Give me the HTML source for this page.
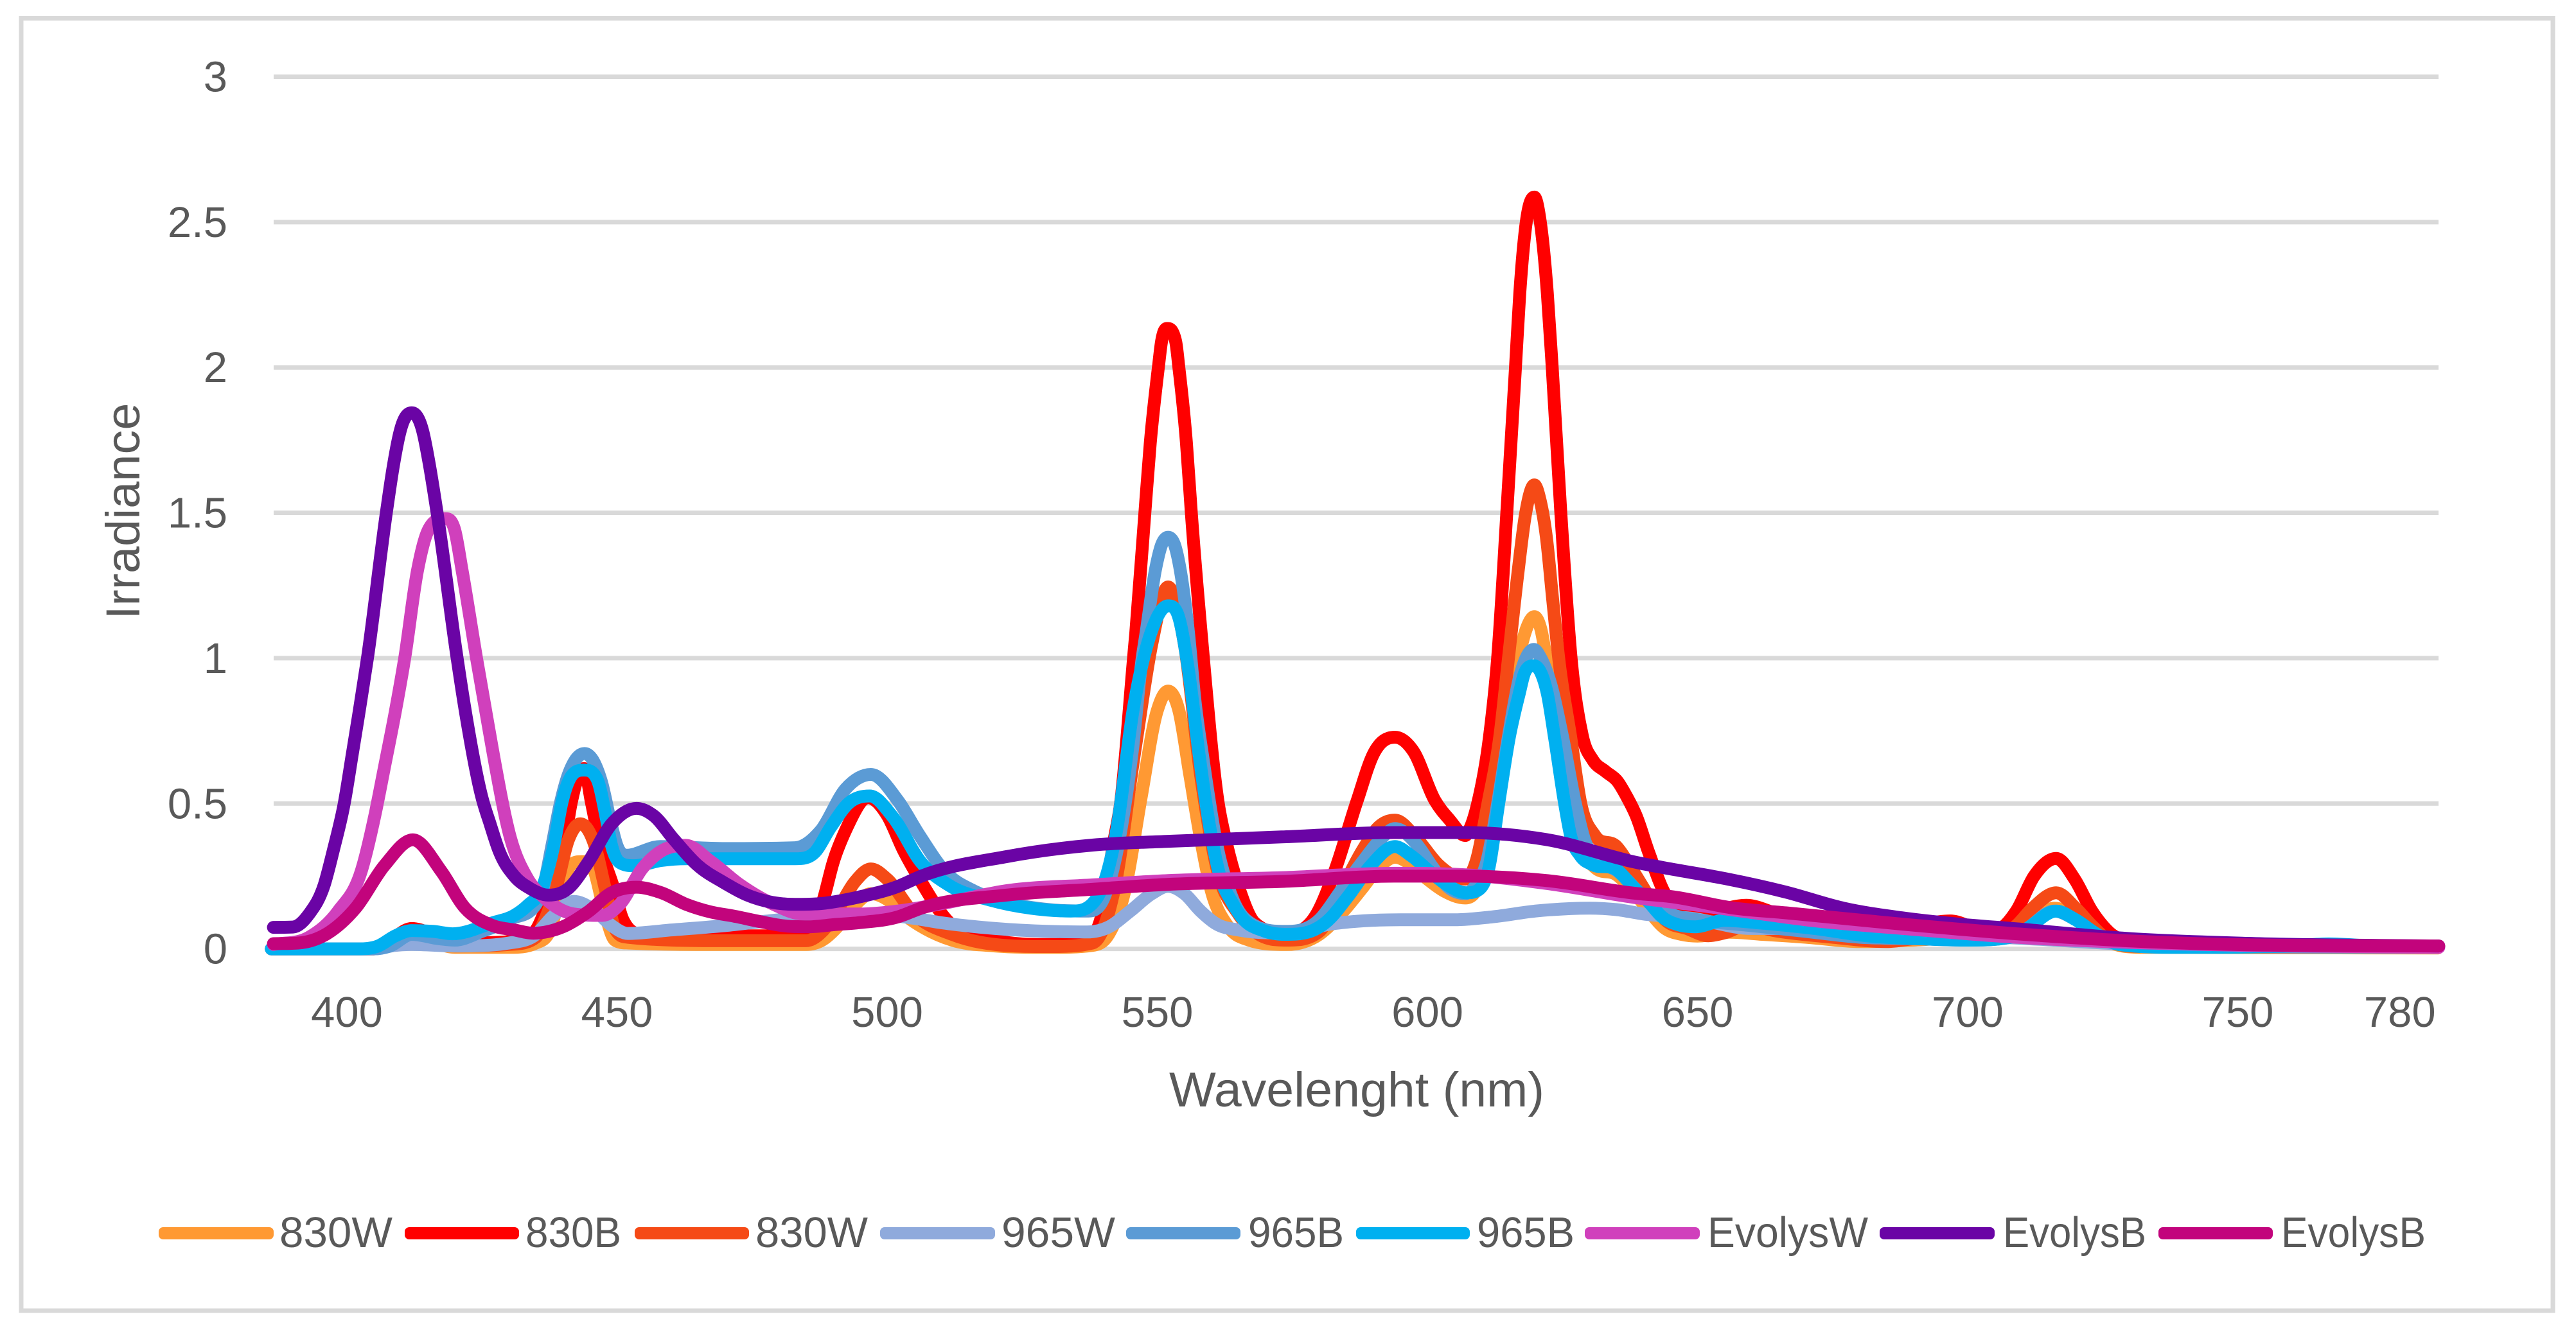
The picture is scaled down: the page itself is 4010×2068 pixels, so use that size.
<!DOCTYPE html>
<html lang="en">
<head>
<meta charset="utf-8">
<title>Irradiance spectra</title>
<style>
html,body{margin:0;padding:0;background:#fff;}
svg{display:block;}
text{font-family:"Liberation Sans",sans-serif;fill:#595959;}
</style>
</head>
<body>
<svg id="chart" xmlns="http://www.w3.org/2000/svg" width="4010" height="2068" viewBox="0 0 4010 2068">
  <rect x="33" y="28.5" width="3941" height="2012.5" fill="#fff" stroke="#d9d9d9" stroke-width="7"/>
  <g id="grid"></g>
  <g id="yticks"></g>
  <g id="xticks"></g>
  <g id="lines"></g>
  <text transform="translate(217,796) rotate(-90)" text-anchor="middle" font-size="74" textLength="337" lengthAdjust="spacingAndGlyphs">Irradiance</text>
  <text x="2112" y="1723" text-anchor="middle" font-size="76" textLength="584" lengthAdjust="spacingAndGlyphs">Wavelenght (nm)</text>
  <g font-size="67">
    <g><rect x="247" y="1911" width="179" height="19" rx="7" fill="#FF9933"/><text x="435" y="1942" textLength="176" lengthAdjust="spacingAndGlyphs">830W</text></g>
    <g><rect x="630" y="1911" width="178" height="19" rx="7" fill="#FF0000"/><text x="818" y="1942" textLength="149" lengthAdjust="spacingAndGlyphs">830B</text></g>
    <g><rect x="988" y="1911" width="178" height="19" rx="7" fill="#F54A16"/><text x="1176" y="1942" textLength="175" lengthAdjust="spacingAndGlyphs">830W</text></g>
    <g><rect x="1370" y="1911" width="179" height="19" rx="7" fill="#8FAADC"/><text x="1559" y="1942" textLength="177" lengthAdjust="spacingAndGlyphs">965W</text></g>
    <g><rect x="1753" y="1911" width="178" height="19" rx="7" fill="#5B9BD5"/><text x="1943" y="1942" textLength="149" lengthAdjust="spacingAndGlyphs">965B</text></g>
    <g><rect x="2111" y="1911" width="177" height="19" rx="7" fill="#00B0F0"/><text x="2299" y="1942" textLength="152" lengthAdjust="spacingAndGlyphs">965B</text></g>
    <g><rect x="2467" y="1911" width="179" height="19" rx="7" fill="#D040BC"/><text x="2658" y="1942" textLength="250" lengthAdjust="spacingAndGlyphs">EvolysW</text></g>
    <g><rect x="2926" y="1911" width="179" height="19" rx="7" fill="#6A04A5"/><text x="3118" y="1942" textLength="223" lengthAdjust="spacingAndGlyphs">EvolysB</text></g>
    <g><rect x="3360" y="1911" width="178" height="19" rx="7" fill="#C2047C"/><text x="3551" y="1942" textLength="225" lengthAdjust="spacingAndGlyphs">EvolysB</text></g>
  </g>
</svg>
<script>
// Tick values
const xTickValues = [400, 450, 500, 550, 600, 650, 700, 750, 780];
const yTickValues = [0, 0.5, 1, 1.5, 2, 2.5, 3];

// Series data: each point is [wavelength nm, irradiance]
const orange830W = [[386,0],[405,0],[409,.02],[412,.03],[416,.02],[420,.005],[430,.005],[435,.02],[437.5,.06],[440,.22],[441.5,.29],[443.5,.3],[445.5,.28],[447.8,.12],[449.6,.03],[452,.02],[470,.015],[485,.015],[488,.03],[491,.08],[494,.15],[497,.19],[500,.17],[503,.12],[507,.07],[512,.03],[520,.01],[530,.005],[538,.012],[541,.05],[544,.2],[547,.52],[550,.82],[552,.887],[554,.82],[556,.6],[558,.38],[560,.2],[563,.08],[567,.03],[574,.015],[580,.05],[584,.12],[588,.21],[591,.28],[594,.315],[597,.29],[600,.24],[603,.2],[607,.175],[609,.2],[611,.3],[613,.52],[615,.8],[617.5,1.05],[618.3,1.1],[619.8,1.143],[621,1.1],[622,1],[624,.78],[626,.52],[628,.36],[631,.28],[635,.255],[638,.2],[641,.13],[644,.07],[647,.05],[650,.044],[656,.057],[662,.05],[670,.04],[680,.025],[690,.03],[700,.04],[706,.04],[709,.06],[712,.1],[716,.14],[720,.11],[723,.06],[726,.025],[732,.005],[787,.003]];
const red830B = [[386,0],[405,0],[408,.03],[412,.07],[416,.05],[420,.02],[430,.025],[434.8,.06],[436.2,.11],[438.5,.25],[440.2,.355],[441.5,.5],[443.9,.62],[445.3,.5],[446.9,.355],[449.4,.208],[451.1,.1],[455,.05],[470,.045],[485,.045],[486.5,.08],[488.2,.17],[490,.297],[492.3,.407],[496.5,.52],[500,.46],[503,.34],[506,.24],[511,.1],[520,.03],[530,.015],[537,.04],[539.5,.1],[541.9,.364],[543.2,.5],[545.6,1],[546,1.084],[547.7,1.5],[548.7,1.74],[550.2,2],[550.8,2.09],[551.8,2.134],[553.4,2.09],[554,2],[555.4,1.74],[556.3,1.5],[558.3,1.05],[561.3,.5],[562.8,.364],[565,.216],[568,.09],[574,.055],[579.5,.12],[582.7,.26],[587,.51],[590,.67],[594,.728],[597.4,.68],[601.4,.51],[604.1,.444],[607,.39],[608,.42],[609.3,.5],[611.5,.731],[613,1],[614.7,1.5],[616.3,2],[617.1,2.255],[618.3,2.5],[619.8,2.586],[620.9,2.5],[622.2,2.255],[623.1,2],[624.7,1.5],[626.6,1],[628.7,.731],[630.6,.65],[633,.61],[635.2,.576],[637,.52],[638.6,.46],[641,.33],[644.3,.18],[646.4,.15],[652,.13],[659,.15],[665,.12],[675,.09],[685,.07],[690,.08],[696.8,.096],[703,.065],[705.9,.07],[709,.13],[712.3,.25],[716.4,.311],[719.8,.24],[723,.13],[726.2,.057],[732,.02],[740,.012],[750,.01],[787,.005]];
const deep830W = [[386,0],[405,0],[408,.02],[412,.04],[416,.03],[420,.01],[430,.015],[435,.04],[436.4,.09],[438.7,.208],[441,.375],[443.2,.43],[445.9,.355],[447.8,.208],[449.6,.07],[452,.04],[470,.028],[485,.028],[488,.06],[491,.14],[494,.23],[497,.275],[500,.24],[505,.12],[512,.05],[520,.015],[530,.008],[538,.02],[542,.2],[546,.7],[549,1.05],[552,1.245],[555,1.05],[558,.6],[561,.28],[565,.12],[568,.06],[574,.03],[580,.06],[584,.2],[588,.34],[591,.42],[594,.443],[598,.38],[602,.29],[605,.25],[607,.24],[609,.3],[611.2,.5],[613.4,.731],[615,1],[616.8,1.3],[618.2,1.5],[619.8,1.596],[620.9,1.54],[622,1.42],[623.2,1.2],[624.3,1],[626.5,.731],[628.4,.5],[631,.39],[635,.352],[638,.27],[641,.18],[644,.1],[648,.07],[652,.045],[655,.055],[659,.08],[665,.06],[675,.04],[685,.025],[690,.035],[697,.05],[703,.04],[706,.045],[709,.08],[712,.14],[716.4,.193],[720,.14],[723,.08],[726,.03],[732,.008],[787,.005]];
const periwinkle965W = [[386,0],[405,0],[409,.012],[412,.015],[420,.01],[430,.02],[435,.05],[438,.11],[442,.163],[446,.13],[449,.08],[452,.053],[460,.065],[470,.08],[480,.1],[490,.115],[500,.115],[505,.105],[510,.09],[520,.07],[530,.06],[537,.058],[541,.075],[545,.13],[549,.19],[552,.215],[555,.19],[558,.13],[561,.085],[565,.065],[571,.055],[576,.06],[582,.085],[587,.095],[595,.1],[605,.1],[612,.11],[620,.13],[630,.14],[635,.135],[640,.12],[649,.105],[660,.07],[670,.07],[680,.06],[690,.05],[700,.045],[716,.03],[725,.02],[740,.01],[787,.005]];
const blue965B = [[386,0],[405,0],[408,.01],[412,.05],[417,.035],[420,.03],[425,.06],[430,.1],[436,.19],[438,.36],[439.5,.5],[441,.6],[442.3,.65],[444,.672],[445.5,.65],[447.1,.576],[448.9,.43],[450,.355],[451.8,.322],[458,.352],[470,.345],[483,.348],[487.7,.407],[492.3,.55],[497,.6],[502,.51],[506,.39],[511,.26],[516,.2],[521,.165],[530,.135],[537,.13],[540,.17],[543,.38],[545.5,.7],[547.2,1],[547.9,1.084],[549.6,1.298],[550.8,1.39],[552,1.416],[553.2,1.39],[554.3,1.298],[555.8,1.084],[557,.85],[558.5,.65],[561,.36],[564,.17],[568,.08],[574,.06],[580,.1],[584,.2],[588,.3],[591,.37],[594,.414],[598,.36],[601,.28],[604,.21],[607,.19],[609,.22],[611,.3],[613,.5],[615,.731],[617,.93],[619.7,1.03],[621,1],[623,.9],[625,.731],[627.4,.5],[629,.38],[632,.3],[635,.27],[640,.18],[645,.12],[650,.1],[660,.08],[670,.06],[680,.04],[690,.035],[700,.03],[708,.04],[711,.07],[716,.13],[720,.1],[725,.03],[735,.01],[787,.005]];
const cyan965B = [[386,0],[402,0],[405.8,.01],[409,.045],[412,.063],[416,.06],[419.6,.052],[427,.09],[431,.115],[433.5,.15],[436.1,.208],[438.3,.355],[439.8,.503],[441.4,.59],[443.9,.615],[446.4,.58],[448,.45],[449,.355],[450.5,.297],[453.2,.286],[458.2,.304],[462.8,.31],[470,.31],[483,.31],[486.5,.33],[489.6,.42],[492.8,.5],[496.8,.526],[501,.455],[506.3,.297],[511.6,.217],[519,.168],[526.5,.14],[534,.13],[539,.18],[542.4,.4],[545.6,.83],[548.8,1.086],[552,1.18],[553.8,1.15],[555.8,.955],[557.8,.66],[559.7,.42],[561.7,.244],[563.7,.165],[565.7,.107],[569.7,.062],[573.6,.05],[577.6,.056],[581.5,.096],[585.5,.185],[589.4,.284],[594,.352],[597,.32],[600.8,.26],[603.5,.222],[607.2,.193],[609.8,.208],[611.4,.28],[613.2,.5],[615.2,.731],[617,.878],[618,.95],[619.7,.974],[621,.95],[622.2,.878],[623.5,.731],[625.4,.5],[626.5,.39],[628.3,.32],[630.5,.29],[634.8,.275],[638,.215],[641.2,.156],[643.3,.112],[646.4,.083],[649.6,.076],[655,.098],[661,.09],[671.7,.07],[682.4,.043],[691,.035],[700,.03],[708,.04],[711,.07],[716.4,.13],[720,.1],[724,.05],[728,.015],[740,.005],[760,.01],[766.8,.017],[775,.01],[787,.005]];
const pinkEvolysW = [[386.4,.015],[393,.04],[398.4,.13],[402.7,.27],[405.3,.47],[407,.63],[409,.82],[410.7,1],[413.1,1.305],[415,1.438],[418.2,1.48],[420,1.438],[421.3,1.305],[424,1],[425.9,.797],[427,.68],[430.3,.38],[433.4,.243],[436.6,.175],[442,.12],[447.3,.115],[450.5,.153],[454.7,.277],[457.9,.333],[462.7,.356],[467.4,.3],[472.8,.22],[479,.153],[484.4,.12],[495,.12],[502,.13],[510,.155],[522,.2],[538,.22],[552,.235],[573,.245],[594,.26],[607,.255],[622,.225],[639,.175],[650,.15],[660,.125],[670,.1],[688,.07],[709,.04],[730,.022],[752,.012],[787.2,.005]];
const purpleEvolysB = [[386.4,.074],[390,.075],[393,.12],[395.8,.22],[397.5,.34],[399.5,.5],[401,.67],[402.1,.797],[403.8,1],[407.3,1.5],[408.7,1.673],[409.9,1.784],[412,1.844],[414,1.784],[415.2,1.673],[416.7,1.5],[420.4,1],[422.1,.797],[425,.52],[426.5,.43],[428.2,.335],[431,.25],[433.7,.21],[437.3,.185],[441,.208],[444.6,.296],[449,.43],[453.6,.483],[456.8,.458],[460.5,.377],[465,.286],[469.6,.23],[474,.186],[478.7,.16],[483,.153],[487.8,.156],[494.7,.178],[502,.215],[506.3,.25],[522,.317],[538,.357],[552,.37],[573,.385],[593.8,.4],[607,.4],[622,.376],[639,.296],[645,.275],[655.6,.24],[666.4,.195],[677,.14],[687.8,.107],[698.4,.085],[709,.069],[730.4,.035],[751.8,.019],[787.2,.01]];
const crimsonEvolysB = [[386.4,.018],[391,.02],[396.3,.052],[401.6,.14],[407,.288],[412.2,.375],[417.5,.266],[421.8,.142],[427,.08],[431,.065],[434.5,.054],[440,.076],[444.6,.127],[449,.193],[453.6,.212],[458.2,.193],[462.8,.153],[467.3,.127],[471.8,.112],[476.4,.094],[481,.079],[485.5,.076],[490,.083],[494.7,.09],[502,.11],[506.3,.14],[522,.185],[538,.205],[552,.222],[573,.232],[593.8,.25],[607,.25],[622,.235],[639,.19],[645,.18],[656.8,.14],[666.4,.124],[687.8,.085],[709,.052],[730.4,.027],[751.8,.014],[787.2,.01]];

const seriesList = [
  { key: 'orange-830w', data: orange830W, color: '#FF9933' },
  { key: 'red-830b', data: red830B, color: '#FF0000' },
  { key: 'deep-orange-830w', data: deep830W, color: '#F54A16' },
  { key: 'periwinkle-965w', data: periwinkle965W, color: '#8FAADC' },
  { key: 'blue-965b', data: blue965B, color: '#5B9BD5' },
  { key: 'cyan-965b', data: cyan965B, color: '#00B0F0' },
  { key: 'pink-evolysw', data: pinkEvolysW, color: '#D040BC' },
  { key: 'purple-evolysb', data: purpleEvolysB, color: '#6A04A5' },
  { key: 'crimson-evolysb', data: crimsonEvolysB, color: '#C2047C' }
];

// Axis functions
function xScale(nm) { return 540 + (nm - 400) * 8.41; }
function yScale(v) { return 1477.6 - v * 452.7; }

const SVGNS = 'http://www.w3.org/2000/svg';
const gridG = document.getElementById('grid');
const yG = document.getElementById('yticks');
const xG = document.getElementById('xticks');
const linesG = document.getElementById('lines');

yTickValues.forEach(function (t) {
  const line = document.createElementNS(SVGNS, 'line');
  
  
  line.setAttribute('x1', 426);
  line.setAttribute('x2', 3796);
  line.setAttribute('y1', yScale(t));
  line.setAttribute('y2', yScale(t));
  line.setAttribute('stroke', '#d9d9d9');
  line.setAttribute('stroke-width', 7);
  gridG.appendChild(line);

  const label = document.createElementNS(SVGNS, 'text');
  
  
  label.setAttribute('x', 354);
  label.setAttribute('y', yScale(t) + 23);
  label.setAttribute('text-anchor', 'end');
  label.setAttribute('font-size', 67);
  label.textContent = String(t);
  yG.appendChild(label);
});

xTickValues.forEach(function (t) {
  const label = document.createElementNS(SVGNS, 'text');
  
  
  label.setAttribute('x', xScale(t));
  label.setAttribute('y', 1599);
  label.setAttribute('text-anchor', 'middle');
  label.setAttribute('font-size', 67);
  label.textContent = String(t);
  xG.appendChild(label);
});

// Smooth cubic path: weighted Catmull-Rom tangents with a monotonic limiter
function smoothPath(pts) {
  const n = pts.length;
  const xs = pts.map(function (p) { return xScale(p[0]); });
  const ys = pts.map(function (p) { return yScale(p[1]); });
  const h = [], s = [], m = [];
  for (let i = 0; i < n - 1; i++) {
    h[i] = xs[i + 1] - xs[i];
    s[i] = (ys[i + 1] - ys[i]) / h[i];
  }
  m[0] = s[0];
  m[n - 1] = s[n - 2];
  for (let i = 1; i < n - 1; i++) {
    if (s[i - 1] * s[i] <= 0) {
      m[i] = 0;
    } else {
      const avg = (h[i] * s[i - 1] + h[i - 1] * s[i]) / (h[i - 1] + h[i]);
      const lim = 3 * Math.min(Math.abs(s[i - 1]), Math.abs(s[i]));
      m[i] = Math.sign(avg) * Math.min(Math.abs(avg), lim);
    }
  }
  let d = 'M' + xs[0].toFixed(1) + ' ' + ys[0].toFixed(1);
  for (let i = 0; i < n - 1; i++) {
    const c = h[i] / 3;
    d += 'C' + (xs[i] + c).toFixed(1) + ' ' + (ys[i] + m[i] * c).toFixed(1) + ' ' +
         (xs[i + 1] - c).toFixed(1) + ' ' + (ys[i + 1] - m[i + 1] * c).toFixed(1) + ' ' +
         xs[i + 1].toFixed(1) + ' ' + ys[i + 1].toFixed(1);
  }
  return d;
}

seriesList.forEach(function (s) {
  const path = document.createElementNS(SVGNS, 'path');
  
  
  path.setAttribute('id', 'line-' + s.key);
  path.setAttribute('d', smoothPath(s.data));
  path.setAttribute('fill', 'none');
  path.setAttribute('stroke', s.color);
  path.setAttribute('stroke-width', 20);
  path.setAttribute('stroke-linecap', 'round');
  path.setAttribute('stroke-linejoin', 'round');
  linesG.appendChild(path);
});
</script>
</body>
</html>
